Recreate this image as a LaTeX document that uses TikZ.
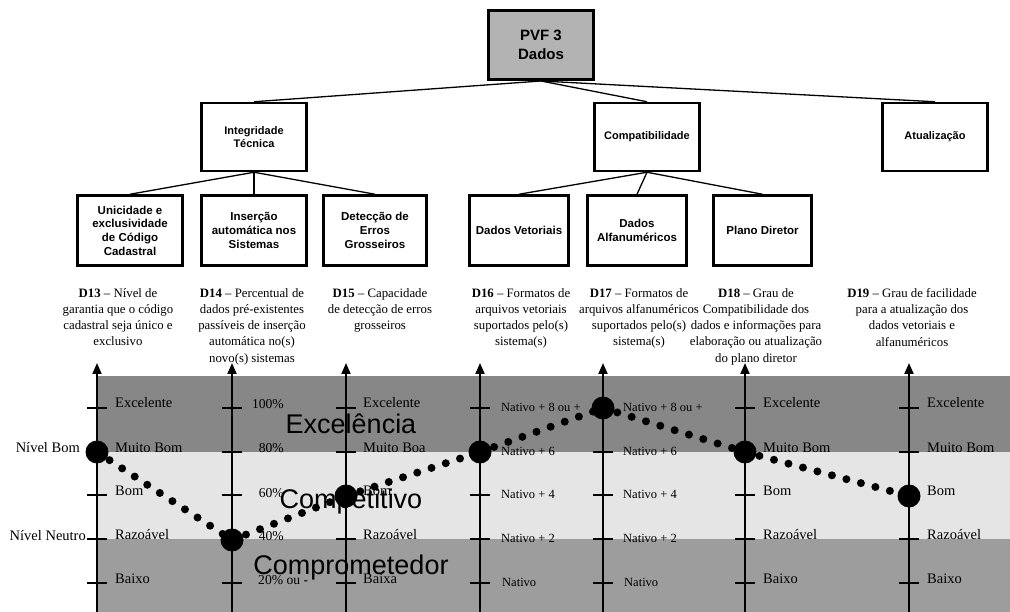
\documentclass[tikz,border=0pt]{standalone}
\usepackage{fontspec}
\setmainfont{Liberation Serif}
\setsansfont{Liberation Sans}
\usetikzlibrary{arrows.meta}
\definecolor{bandtop}{RGB}{135,135,135}
\definecolor{bandmid}{RGB}{229,229,229}
\definecolor{bandbot}{RGB}{157,157,157}
\definecolor{topfill}{RGB}{179,179,179}
\begin{document}
\begin{tikzpicture}[x=1pt,y=-1pt,
  boxbase/.style={draw,line width=2.5pt,inner sep=1pt,align=center},
  toplevel/.style={boxbase,line width=3pt,fill=topfill,minimum width=105pt,minimum height=69pt,font=\sffamily\bfseries\fontsize{15}{19}\selectfont},
  midlevel/.style={boxbase,minimum width=105pt,minimum height=68pt,font=\sffamily\bfseries\fontsize{11}{12.5}\selectfont},
  leaf/.style={boxbase,minimum height=70pt,font=\sffamily\bfseries\fontsize{11.5}{13.7}\selectfont},
  conn/.style={line width=1.3pt},
  desc/.style={anchor=north,inner sep=0pt,align=center,font=\fontsize{12.8}{16.3}\selectfont},
  axisline/.style={line width=2pt,-{Triangle[length=11pt,width=9pt]}},
  tickline/.style={line width=2pt},
  lab/.style={anchor=base west,inner sep=0pt,font=\fontsize{14.5}{14.5}\selectfont},
  natlab/.style={anchor=base west,inner sep=0pt,font=\fontsize{12.5}{12.5}\selectfont},
  pctlab/.style={inner sep=0pt,font=\fontsize{13.6}{13.6}\selectfont},
  zone/.style={anchor=base,inner sep=0pt,font=\sffamily\fontsize{27}{27}\selectfont},
  bigdot/.style={circle,fill=black,inner sep=0pt,minimum size=23pt},
  dotline/.style={line width=8pt,line cap=round,dash pattern=on 0pt off 15pt},
]
\useasboundingbox (0,0) rectangle (1010,612);

% hierarchy
\node[toplevel] (pvf) at (541,45) {PVF 3\\Dados};
\node[midlevel] (int) at (254,137) {Integridade\\Técnica};
\node[midlevel] (comp) at (647,137) {Compatibilidade};
\node[midlevel] (atu) at (935,137) {Atualização};
\node[leaf,minimum width=105pt] (l1) at (130,230.5) {Unicidade e\\exclusividade\\de Código\\Cadastral};
\node[leaf,minimum width=105pt] (l2) at (254,230.5) {Inserção\\automática nos\\Sistemas};
\node[leaf,minimum width=103pt] (l3) at (375,230.5) {Detecção de\\Erros\\Grosseiros};
\node[leaf,minimum width=99pt] (l4) at (519,230.5) {Dados Vetoriais};
\node[leaf,minimum width=99pt] (l5) at (637,230.5) {Dados\\Alfanuméricos};
\node[leaf,minimum width=98pt] (l6) at (762.5,230.5) {Plano Diretor};

\draw[conn] (pvf.south) -- (int.north);
\draw[conn] (pvf.south) -- (comp.north);
\draw[conn] (pvf.south) -- (atu.north);
\draw[conn] (int.south) -- (l1.north);
\draw[conn] (int.south) -- (l2.north);
\draw[conn] (int.south) -- (l3.north);
\draw[conn] (comp.south) -- (l4.north);
\draw[conn] (comp.south) -- (l5.north);
\draw[conn] (comp.south) -- (l6.north);

% descriptors
\node[desc] (d13) at (118,288) {\textbf{D13} \textendash{} Nível de\\garantia que o código\\cadastral seja único e\\exclusivo};
\node[desc] (d14) at (252,288) {\textbf{D14} \textendash{} Percentual de\\dados pré-existentes\\passíveis de inserção\\automática no(s)\\novo(s) sistemas};
\node[desc] (d15) at (380,288) {\textbf{D15} \textendash{} Capacidade\\de detecção de erros\\grosseiros};
\node[desc] (d16) at (521,288) {\textbf{D16} \textendash{} Formatos de\\arquivos vetoriais\\suportados pelo(s)\\sistema(s)};
\node[desc] (d17) at (639,288) {\textbf{D17} \textendash{} Formatos de\\arquivos alfanuméricos\\suportados pelo(s)\\sistema(s)};
\node[desc] (d18) at (756,288) {\textbf{D18} \textendash{} Grau de\\Compatibilidade dos\\dados e informações para\\elaboração ou atualização\\do plano diretor};
\node[desc] (d19) at (912,288) {\textbf{D19} \textendash{} Grau de facilidade\\para a atualização dos\\dados vetoriais e\\alfanuméricos};

% bands
\fill[bandtop] (97,376) rectangle (1010,452);
\fill[bandmid] (97,452) rectangle (1010,539);
\fill[bandbot] (97,539) rectangle (1010,612);

% zone texts
\node[zone] (zexc) at (351,433) {Excelência};
\node[zone] (zcomp) at (351,508) {Competitivo};
\node[zone] (zcompr) at (351,574) {Comprometedor};

% axes
\foreach \n/\x in {1/97,2/232,3/346,4/480,5/603,6/745,7/909}{
  \coordinate (ax\n b) at (\x,612);
  \coordinate (ax\n t) at (\x,363);
  \draw[axisline] (ax\n b) -- (ax\n t);
  \foreach \y in {408,452,495,539,583}{
    \draw[tickline] (\x-10,\y) -- (\x+10,\y);
  }
}

% labels
\foreach \x in {115,763,927}{
  \node[lab] at (\x,408) {Excelente};
  \node[lab] at (\x,452) {Muito Bom};
  \node[lab] at (\x,495) {Bom};
  \node[lab] at (\x,539) {Razoável};
  \node[lab] at (\x,583) {Baixo};
}
\node[lab] at (363,408) {Excelente};
\node[lab] at (363,452) {Muito Boa};
\node[lab] at (363,495) {Bom};
\node[lab] at (363,539) {Razoável};
\node[lab] at (363,583) {Baixa};

\node[pctlab,anchor=base east] at (284,409) {100\%};
\node[pctlab,anchor=base east] at (284,453) {80\%};
\node[pctlab,anchor=base east] at (284,497) {60\%};
\node[pctlab,anchor=base east] at (284,540) {40\%};
\node[pctlab,anchor=base west] at (258,584) {20\% ou -};

\foreach \x in {501,623}{
  \node[natlab] at (\x,411.5) {Nativo + 8 ou +};
  \node[natlab] at (\x,455.5) {Nativo + 6};
  \node[natlab] at (\x,498.5) {Nativo + 4};
  \node[natlab] at (\x,542.5) {Nativo + 2};
  \node[natlab] at (\x+1,586.5) {Nativo};
}

\node[lab,anchor=base east] (nbom) at (80,453) {Nível Bom};
\node[lab,anchor=base east] (nneu) at (86,540) {Nível Neutro};

% profile
\coordinate (p1) at (97,452);
\coordinate (p2) at (232,540);
\coordinate (p3) at (346,496);
\coordinate (p4) at (480,452);
\coordinate (p5) at (603,408);
\coordinate (p6) at (745,452);
\coordinate (p7) at (909,496);
\foreach \a/\b in {p1/p2,p2/p3,p3/p4,p4/p5,p5/p6,p6/p7}{
  \draw[dotline] (\a) -- (\b);
}
\foreach \p in {1,...,7}{
  \node[bigdot] (b\p) at (p\p) {};
}
\end{tikzpicture}
\end{document}
